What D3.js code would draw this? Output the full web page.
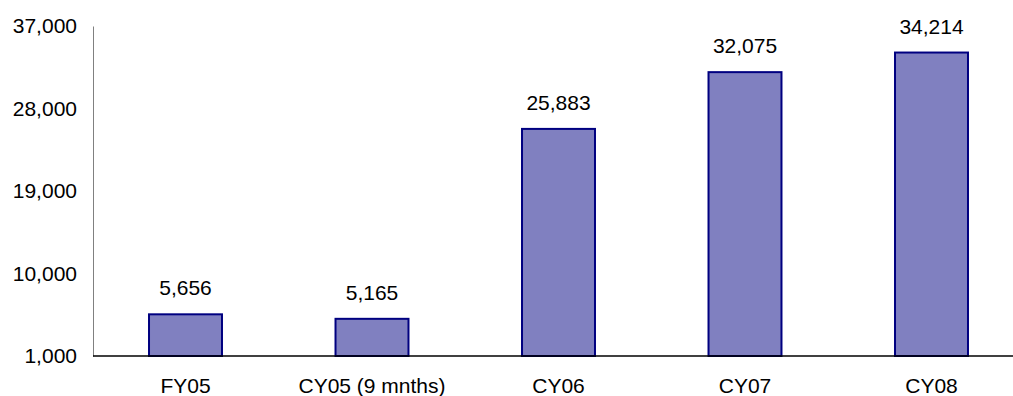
<!DOCTYPE html>
<html>
<head>
<meta charset="utf-8">
<script src="https://cdn.jsdelivr.net/npm/d3@7"></script>
<style>
  html, body { margin: 0; padding: 0; background: #fff; }
  svg { display: block; font-family: Arial, "Liberation Sans", sans-serif; }
</style>
</head>
<body>
<svg id="chart" width="1013" height="396"></svg>
<script>
// Annual totals by period
const categories = ["FY05", "CY05 (9 mnths)", "CY06", "CY07", "CY08"];
const values = [5656, 5165, 25883, 32075, 34214];
const yTicks = [1000, 10000, 19000, 28000, 37000];

const svg = d3.select("#chart");
const W = 1013, H = 396;
const x0 = 93, yTop = 26, yBottom = 356;

const x = d3.scaleBand()
  .domain(categories)
  .range([92.25, 1024.75])
  .paddingInner(0.598)
  .paddingOuter(0.299);

const y = d3.scaleLinear()
  .domain([1000, 37000])
  .range([yBottom, yTop]);

const fmt = d3.format(",");

// Bars
svg.append("g").selectAll("rect")
  .data(values)
  .join("rect")
  .attr("x", (d, i) => x(categories[i]) + 1)
  .attr("width", x.bandwidth() - 2)
  .attr("y", d => y(d) + 1)
  .attr("height", d => y(1000) - y(d) - 1)
  .attr("fill", "#8080c0")
  .attr("stroke", "#000080")
  .attr("stroke-width", 2);

// Value labels
svg.append("g").selectAll("text")
  .data(values)
  .join("text")
  .attr("x", (d, i) => x(categories[i]) + x.bandwidth() / 2)
  .attr("y", d => y(d) - 18)
  .attr("text-anchor", "middle")
  .attr("font-size", 21)
  .attr("fill", "#000")
  .text(d => fmt(d));

// Y axis
const yAxis = d3.axisLeft(y)
  .tickValues(yTicks)
  .tickFormat(fmt)
  .tickSize(0)
  .tickPadding(16);

const gy = svg.append("g")
  .attr("transform", `translate(${x0},0)`)
  .call(yAxis);
gy.select(".domain").attr("stroke", "#808080").attr("stroke-width", 1);
gy.selectAll("text")
  .attr("font-size", 21)
  .attr("font-family", "Arial, 'Liberation Sans', sans-serif")
  .attr("fill", "#000");

// X axis baseline and category labels
svg.append("line")
  .attr("x1", x0).attr("x2", W)
  .attr("y1", yBottom).attr("y2", yBottom)
  .attr("stroke", "#000")
  .attr("stroke-width", 1.5);

svg.append("g").selectAll("text")
  .data(categories)
  .join("text")
  .attr("x", d => x(d) + x.bandwidth() / 2)
  .attr("y", 393)
  .attr("text-anchor", "middle")
  .attr("font-size", 21)
  .attr("fill", "#000")
  .text(d => d);
</script>
</body>
</html>
